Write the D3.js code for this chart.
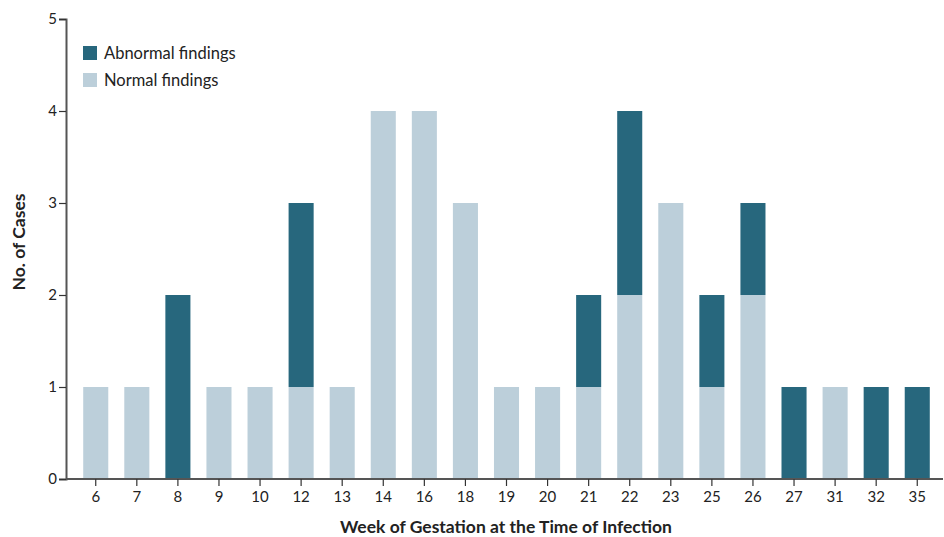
<!DOCTYPE html>
<html>
<head>
<meta charset="utf-8">
<script src="https://cdn.jsdelivr.net/npm/d3@7"></script>
<style>
  body { margin: 0; background: #fff; }
  text { font-family: Lato, "Open Sans", sans-serif; fill: #222; }
</style>
</head>
<body>
<svg width="944" height="537"></svg>
<script>
const weeks = ["6","7","8","9","10","12","13","14","16","18","19","20","21","22","23","25","26","27","31","32","35"];
const normal =   [1,1,0,1,1,1,1,4,4,3,1,1,1,2,3,1,2,0,1,0,0];
const abnormal = [0,0,2,0,0,2,0,0,0,0,0,0,1,2,0,1,1,1,0,1,1];
const yTicks = [0,1,2,3,4,5];
const colors = {normal: "#bccfda", abnormal: "#27677d"};

const svg = d3.select("svg");
const x0 = 66, x1 = 943, yBottom = 479, yTop = 19;

const x = d3.scaleBand().domain(weeks).range([75, 938]).paddingInner(0.39).paddingOuter(0.2);
const y = d3.scaleLinear().domain([0, 5]).range([yBottom, yTop]);

const rows = weeks.map((w, i) => ({w, n: normal[i], a: abnormal[i]}));

// normal on bottom, abnormal stacked on top
svg.append("g").selectAll("rect").data(rows.filter(d => d.n > 0)).enter().append("rect")
  .attr("x", d => x(d.w)).attr("width", x.bandwidth())
  .attr("y", d => y(d.n)).attr("height", d => y(0) - y(d.n))
  .attr("fill", colors.normal);
svg.append("g").selectAll("rect").data(rows.filter(d => d.a > 0)).enter().append("rect")
  .attr("x", d => x(d.w)).attr("width", x.bandwidth())
  .attr("y", d => y(d.n + d.a)).attr("height", d => y(d.n) - y(d.n + d.a))
  .attr("fill", colors.abnormal);

// y axis
const ya = svg.append("g").attr("transform", "translate(" + x0 + ",0)")
  .call(d3.axisLeft(y).tickValues(yTicks).tickFormat(d3.format("d")).tickSize(7).tickPadding(2));
ya.select(".domain").attr("stroke", "#555").attr("stroke-width", 2);
ya.selectAll(".tick line").attr("stroke", "#333").attr("stroke-width", 1.2);
ya.selectAll(".tick text").style("font-size", "15px").attr("fill", "#222");

// x axis
const xa = svg.append("g").attr("transform", "translate(0," + yBottom + ")")
  .call(d3.axisBottom(x).tickSize(7).tickPadding(5).tickSizeOuter(0));
xa.select(".domain").attr("d", "M" + x0 + ",0H" + x1).attr("stroke", "#555").attr("stroke-width", 2);
xa.selectAll(".tick line").attr("stroke", "#333").attr("stroke-width", 1.2);
xa.selectAll(".tick text").style("font-size", "15px").attr("fill", "#222");

// titles
svg.append("text").attr("x", 506).attr("y", 533).attr("text-anchor", "middle")
  .style("font-size", "17.5px").style("font-weight", "bold").text("Week of Gestation at the Time of Infection");
svg.append("text").attr("transform", "translate(25,242) rotate(-90)").attr("text-anchor", "middle")
  .style("font-size", "17.5px").style("font-weight", "bold").text("No. of Cases");

// legend
const legend = [["Abnormal findings", colors.abnormal], ["Normal findings", colors.normal]];
legend.forEach((l, i) => {
  svg.append("rect").attr("x", 83).attr("y", 46 + i * 27).attr("width", 14).attr("height", 14).attr("fill", l[1]);
  svg.append("text").attr("x", 104).attr("y", 59 + i * 27).style("font-size", "16.5px").text(l[0]);
});
</script>
</body>
</html>
